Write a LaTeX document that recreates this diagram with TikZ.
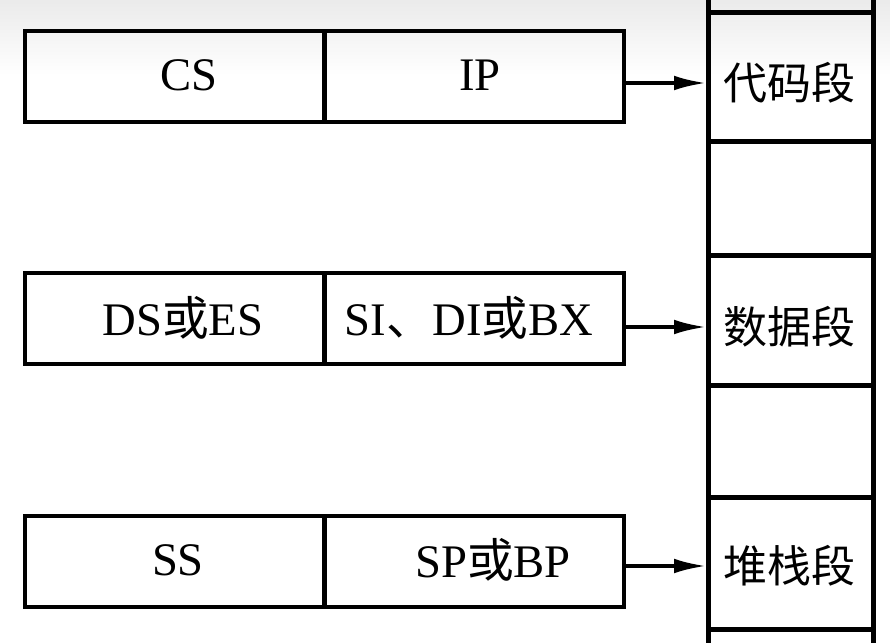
\documentclass[tikz,border=0pt]{standalone}
\usepackage{fontspec}
\setmainfont{Liberation Serif}
\newfontfamily\cjk{Noto Sans CJK SC}
\usetikzlibrary{arrows.meta}
\begin{document}
\begin{tikzpicture}[x=0.75pt,y=-0.75pt,
  cell/.style={draw, line width=3pt, minimum width=224.25pt, minimum height=68.25pt, anchor=north west, inner sep=0pt},
  seg/.style={draw, line width=3.4pt, minimum width=123.75pt, anchor=north west, inner sep=0pt},
  lbl/.style={inner sep=0pt, font=\fontsize{35}{40}\selectfont},
  slbl/.style={inner sep=0pt, font=\cjk\fontsize{33}{38}\selectfont},
  conn/.style={line width=2.5pt, -{Latex[length=24pt,width=11pt]}}]
\useasboundingbox (0,0) rectangle (890,643);
\fill[top color=gray!16, bottom color=white, draw=none] (0,0) rectangle (890,75);
% left boxes
\node[cell] (rCS) at (23,29) {};
\node[cell] (rIP) at (323,29) {};
\node[cell] (rDS) at (23,271) {};
\node[cell] (rSI) at (323,271) {};
\node[cell] (rSS) at (23,514) {};
\node[cell] (rSP) at (323,514) {};
% labels
\node[lbl] (tCS) at (189,75) {CS};
\node[lbl] (tIP) at (480,75) {IP};
\node[lbl] (tDS) at (183,318) {DS{\cjk 或}ES};
\node[lbl] (tSI) at (469,318) {SI{\cjk 、}DI{\cjk 或}BX};
\node[lbl] (tSS) at (178,560) {SS};
\node[lbl] (tSP) at (493,560) {SP{\cjk 或}BP};
% memory column
\node[seg, minimum height=22.5pt] (top) at (706,-20) {};
\node[seg, minimum height=96.75pt] (s1) at (706,10) {};
\node[seg, minimum height=85.5pt] (g1) at (706,139) {};
\node[seg, minimum height=97.5pt] (s2) at (706,253) {};
\node[seg, minimum height=84pt] (g2) at (706,383) {};
\node[seg, minimum height=99pt] (s3) at (706,495) {};
\node[seg, minimum height=30pt] (bot) at (706,627) {};
\node[slbl] (t1) at (789,83) {代码段};
\node[slbl] (t2) at (789,327) {数据段};
\node[slbl] (t3) at (789,566) {堆栈段};
% connectors
\draw[conn] (rIP.east |- t1) -- (s1.west |- t1);
\draw[conn] (rSI.east |- t2) -- (s2.west |- t2);
\draw[conn] (rSP.east |- t3) -- (s3.west |- t3);
\end{tikzpicture}
\end{document}
